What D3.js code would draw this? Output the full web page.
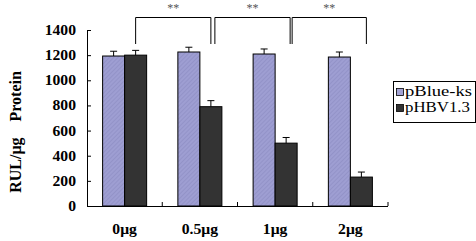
<!DOCTYPE html>
<html>
<head>
<meta charset="utf-8">
<script src="https://cdn.jsdelivr.net/npm/d3@7"></script>
<style>
  body { margin: 0; background: #fff; }
</style>
</head>
<body>
<div id="chart"></div>
<script>
// Chart data
const doses = ["0μg", "0.5μg", "1μg", "2μg"];
const series = ["pBlue-ks", "pHBV1.3"];
const blueValues = [1193, 1225, 1209, 1185];
const blueErrors = [38, 38, 40, 40];
const hbvValues = [1200, 790, 500, 230];
const hbvErrors = [38, 48, 45, 40];
const yTicks = [0, 200, 400, 600, 800, 1000, 1200, 1400];
// significance brackets between pHBV1.3 bars of neighbouring doses
const brackets = [
  { from: "0μg", to: "0.5μg", label: "**" },
  { from: "0.5μg", to: "1μg", label: "**" },
  { from: "1μg", to: "2μg", label: "**" }
];

const width = 476, height = 241;
const margin = { top: 30, right: 88, bottom: 35, left: 87 };
const stretch = 1.12; // the original figure's text is a bit wide
const serif = "'Liberation Serif', 'Times New Roman', serif";

const svg = d3.select("#chart").append("svg")
    .attr("width", width)
    .attr("height", height)
    .style("font-family", serif);

// hatched fill for the light bars
const defs = svg.append("defs");
const pat = defs.append("pattern")
    .attr("id", "hatch")
    .attr("patternUnits", "userSpaceOnUse")
    .attr("width", 3)
    .attr("height", 3)
    .attr("patternTransform", "rotate(45)");
pat.append("rect").attr("width", 3).attr("height", 3).attr("fill", "#9e9ed2");
pat.append("line").attr("x1", 0).attr("y1", 0).attr("x2", 0).attr("y2", 3)
    .attr("stroke", "#8b8bc2").attr("stroke-width", 1.2);

const colors = { "pBlue-ks": "url(#hatch)", "pHBV1.3": "#333333" };

const x = d3.scaleBand()
    .domain(doses)
    .range([margin.left, width - margin.right])
    .paddingInner(0.415)
    .paddingOuter(0.2075);

const xs = d3.scaleBand()
    .domain(series)
    .range([0, x.bandwidth()]);

const y = d3.scaleLinear()
    .domain([0, 1400])
    .range([height - margin.bottom, margin.top]);

const rows = doses.map((d, i) => ({
    dose: d,
    vals: [
        { s: "pBlue-ks", v: blueValues[i], e: blueErrors[i] },
        { s: "pHBV1.3", v: hbvValues[i], e: hbvErrors[i] }
    ]
}));

// bars
const groups = svg.append("g").selectAll("g")
    .data(rows)
    .join("g")
    .attr("transform", d => `translate(${x(d.dose)},0)`);

groups.selectAll("rect")
    .data(d => d.vals)
    .join("rect")
    .attr("x", d => xs(d.s))
    .attr("y", d => y(d.v))
    .attr("width", xs.bandwidth())
    .attr("height", d => y(0) - y(d.v))
    .attr("fill", d => colors[d.s])
    .attr("stroke", "#000")
    .attr("stroke-width", 1);

// error bars (upper only)
const err = groups.selectAll("g.err")
    .data(d => d.vals)
    .join("g")
    .attr("class", "err")
    .attr("stroke", "#000")
    .attr("stroke-width", 1);
err.append("line")
    .attr("x1", d => xs(d.s) + xs.bandwidth() / 2)
    .attr("x2", d => xs(d.s) + xs.bandwidth() / 2)
    .attr("y1", d => y(d.v))
    .attr("y2", d => y(d.v + d.e));
err.append("line")
    .attr("x1", d => xs(d.s) + xs.bandwidth() / 2 - 3.5)
    .attr("x2", d => xs(d.s) + xs.bandwidth() / 2 + 3.5)
    .attr("y1", d => y(d.v + d.e))
    .attr("y2", d => y(d.v + d.e));

// y axis
const yAxis = svg.append("g")
    .attr("transform", `translate(${margin.left},0)`)
    .call(d3.axisRight(y).tickValues(yTicks).tickSize(4).tickFormat(d3.format("d")));
yAxis.attr("font-family", serif);
yAxis.select(".domain").attr("d", `M0.5,${y(0)}V${y(1400)}`).attr("stroke", "#000");
yAxis.selectAll(".tick line").attr("stroke", "#000");
yAxis.selectAll(".tick text")
    .attr("x", 0)
    .attr("transform", `translate(-11,0) scale(${stretch},1)`)
    .attr("text-anchor", "end")
    .attr("fill", "#000")
    .style("font-family", serif)
    .style("font-size", "14px")
    .style("font-weight", "bold");

// x axis: ticks at category boundaries, pointing up
const xAxis = svg.append("g")
    .attr("transform", `translate(0,${y(0)})`);
xAxis.append("line")
    .attr("x1", margin.left).attr("x2", width - margin.right)
    .attr("y1", 0.5).attr("y2", 0.5)
    .attr("stroke", "#000");
xAxis.selectAll("line.tk")
    .data(doses)
    .join("line")
    .attr("class", "tk")
    .attr("x1", d => x(d) + x.bandwidth() + x.step() * x.paddingInner() / 2)
    .attr("x2", d => x(d) + x.bandwidth() + x.step() * x.paddingInner() / 2)
    .attr("y1", 0).attr("y2", -4)
    .attr("stroke", "#000");
xAxis.selectAll("text")
    .data(doses)
    .join("text")
    .attr("transform", d => `translate(${x(d) + x.bandwidth() / 2},28) scale(${stretch},1)`)
    .attr("text-anchor", "middle")
    .style("font-size", "14px")
    .style("font-weight", "bold")
    .text(d => d);

// y axis title
svg.append("text")
    .attr("transform", "translate(21,132) rotate(-90)")
    .attr("text-anchor", "middle")
    .style("font-size", "16px")
    .style("font-weight", "bold")
    .style("white-space", "pre")
    .attr("xml:space", "preserve")
    .text("RUL/μg    Protein");

// significance brackets
const hbvMid = d => x(d) + xs("pHBV1.3") + xs.bandwidth() / 2;
const nudge = [[0, 0], [4, 4], [6, 5]];
const bTop = 17.5, bLeg = 44;
const br = svg.append("g").selectAll("g")
    .data(brackets)
    .join("g");
br.append("path")
    .attr("d", (d, i) => {
        const x1 = hbvMid(d.from) + nudge[i][0], x2 = hbvMid(d.to) + nudge[i][1];
        return `M${x1},${bLeg}V${bTop}H${x2}V${bLeg}`;
    })
    .attr("fill", "none")
    .attr("stroke", "#000")
    .attr("stroke-width", 1);
br.append("text")
    .attr("x", (d, i) => (hbvMid(d.from) + nudge[i][0] + hbvMid(d.to) + nudge[i][1]) / 2)
    .attr("y", 12)
    .attr("text-anchor", "middle")
    .attr("fill", "#555")
    .style("font-size", "12px")
    .text(d => d.label);

// legend
const legend = svg.append("g").attr("transform", "translate(393,81)");
legend.append("rect")
    .attr("x", 0.5).attr("y", 0.5)
    .attr("width", 82).attr("height", 41)
    .attr("fill", "#fff")
    .attr("stroke", "#000");
series.forEach((s, i) => {
    legend.append("rect")
        .attr("x", 3.5).attr("y", 7.5 + i * 16)
        .attr("width", 7).attr("height", 7)
        .attr("fill", s === "pBlue-ks" ? "#a3a3d4" : "#333")
        .attr("stroke", "#000")
        .attr("stroke-width", 0.8);
    legend.append("text")
        .attr("x", 12).attr("y", 15 + i * 16)
        .attr("textLength", i === 0 ? 67 : 65)
        .attr("lengthAdjust", "spacingAndGlyphs")
        .style("font-size", "15px")
        .text(s);
});
</script>
</body>
</html>
